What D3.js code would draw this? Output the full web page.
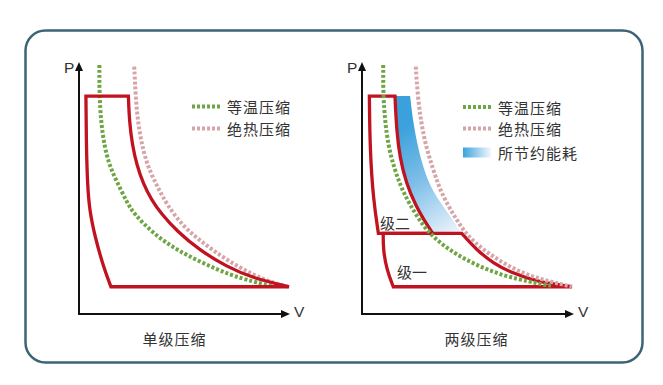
<!DOCTYPE html>
<html>
<head>
<meta charset="utf-8">
<script src="https://cdn.jsdelivr.net/npm/d3@7"></script>
<style>
body { margin: 0; background: #fff; }
svg { display: block; }
text { font-family: "Noto Sans CJK SC", "Noto Sans", sans-serif; fill: #333; }
.axlab { font-family: "Liberation Sans", Arial, sans-serif; }
</style>
</head>
<body>
<svg id="chart" width="663" height="385"></svg>
<script>
const width = 663;
const height = 385;

// pressures of the horizontal strokes
const pHigh = 8;
const pMid = 2.96;
const pLow = 1;

// single stage (left panel), points are [V, P]
const singleIso = [[0.97, 9.14], [0.97, 8.04], [1.05, 7.06], [1.2, 6.2], [1.44, 5.47], [1.8, 4.86],
  [2.27, 4.12], [2.59, 3.7], [3.54, 2.95], [4.65, 2.35], [5.92, 1.86], [7.19, 1.43], [8.3, 1.19], [8.94, 1.06], [9.3, 1.02]];
const singleAdia = [[2.63, 9.08], [2.7, 7.92], [2.82, 6.94], [3.06, 5.96], [3.38, 5.22], [3.78, 4.61],
  [4.18, 4.02], [4.97, 3.2], [5.92, 2.6], [7.03, 1.98], [8.3, 1.43], [9.24, 1.14], [10, 1.0]];
const singleCompress = [[2.35, 8], [2.4, 7.06], [2.54, 6.2], [2.75, 5.47], [3.06, 4.78], [3.46, 4.18],
  [3.9, 3.7], [4.65, 3.05], [5.76, 2.33], [7.03, 1.74], [8.3, 1.31], [10, 1]];
const singleExpand = [[1.52, 1], [1.16, 1.74], [0.76, 2.84], [0.5, 3.8], [0.4, 4.8], [0.35, 6.2], [0.33, 8]];

// two stage (right panel)
const twoIso = [[1.01, 9.14], [1.01, 8.04], [1.1, 7.06], [1.25, 6.2], [1.49, 5.47], [1.81, 4.74], [2.2, 4.12],
  [2.92, 3.2], [3.71, 2.6], [4.67, 2.1], [5.78, 1.68], [6.89, 1.37], [8.0, 1.19], [8.48, 1.1], [9.0, 1.04]];
const twoAdia = [[2.56, 9.08], [2.65, 8.04], [2.81, 7.06], [3.03, 6.2], [3.32, 5.47], [3.63, 4.74], [3.99, 4.12],
  [4.51, 3.45], [4.99, 2.9], [5.78, 2.35], [6.73, 1.86], [7.84, 1.43], [8.95, 1.19], [9.99, 1.0]];
const stage2Compress = [[1.57, 8], [1.65, 6.69], [1.81, 5.72], [2.1, 4.81], [2.57, 3.96], [2.95, 3.45], [3.37, 2.96]];
const stage2Expand = [[0.78, 2.96], [0.54, 4.19], [0.38, 6.02], [0.35, 8]];
const stage1Compress = [[4.75, 2.96], [5.46, 2.35], [6.25, 1.86], [7.2, 1.49], [8.32, 1.19], [10, 1]];
const stage1Expand = [[1.49, 1], [1.18, 1.62], [1.01, 2.35], [1.01, 2.96]];
const savedEdge = [[4.75, 2.96], [4.33, 3.45], [3.72, 4.1], [3.29, 4.63], [2.95, 5.29], [2.67, 6.09], [2.43, 7.06], [2.29, 8]];

const legendLabels = ['等温压缩', '绝热压缩', '所节约能耗'];
const captions = ['单级压缩', '两级压缩'];
const stageLabels = ['级二', '级一'];

const red = '#c0121f';
const green = '#6ea646';
const pink = '#d7a4a9';

const svg = d3.select('#chart');

const defs = svg.append('defs');
const fillGrad = defs.append('linearGradient')
  .attr('id', 'saved')
  .attr('gradientUnits', 'userSpaceOnUse')
  .attr('x1', 398).attr('y1', 130).attr('x2', 462).attr('y2', 236);
fillGrad.append('stop').attr('offset', 0).attr('stop-color', '#3ba1dc');
fillGrad.append('stop').attr('offset', 0.45).attr('stop-color', '#80bfe9');
fillGrad.append('stop').attr('offset', 1).attr('stop-color', '#f6f9fd');
const swatchGrad = defs.append('linearGradient').attr('id', 'swatch');
swatchGrad.append('stop').attr('offset', 0).attr('stop-color', '#3ba3dd');
swatchGrad.append('stop').attr('offset', 1).attr('stop-color', '#f4f8fc');

// frame
svg.append('rect')
  .attr('x', 25.5).attr('y', 30.5)
  .attr('width', 617).attr('height', 332)
  .attr('rx', 20)
  .attr('fill', 'none')
  .attr('stroke', '#3c6476')
  .attr('stroke-width', 2.5);

const y = d3.scaleLinear().domain([0, 9.25]).range([314, 62]);
const xLeft = d3.scaleLinear().domain([0, 10]).range([79, 289]);
const xRight = d3.scaleLinear().domain([0, 10]).range([362, 572]);

function curveGen(x, curve) {
  return d3.line().x(d => x(d[0])).y(d => y(d[1])).curve(curve);
}

// joins straight and curved pieces into one closed outline
function outline(x, pieces) {
  return pieces.map((p, i) => {
    const s = curveGen(x, p.curved ? d3.curveBasis : d3.curveLinear)(p.pts);
    return i ? s.replace(/^M/, 'L') : s;
  }).join('') + 'Z';
}

function drawAxes(x, pLabelX, tipExtra) {
  const g = svg.append('g');
  const x0 = x.range()[0];
  const xEnd = x.range()[1] + tipExtra;
  const y0 = y(0);
  const yTop = y(y.domain()[1]);
  g.append('line').attr('x1', x0).attr('y1', y0).attr('x2', x0).attr('y2', yTop + 6)
    .attr('stroke', '#111').attr('stroke-width', 2);
  g.append('line').attr('x1', x0 - 1).attr('y1', y0).attr('x2', xEnd - 6).attr('y2', y0)
    .attr('stroke', '#111').attr('stroke-width', 2);
  g.append('path').attr('d', `M${x0},${yTop}L${x0 - 4},${yTop + 9}L${x0 + 4},${yTop + 9}Z`).attr('fill', '#111');
  g.append('path').attr('d', `M${xEnd},${y0}L${xEnd - 9},${y0 - 4}L${xEnd - 9},${y0 + 4}Z`).attr('fill', '#111');
  g.append('text').attr('class', 'axlab').attr('x', pLabelX).attr('y', 72.5)
    .style('font-size', '15.5px').text('P');
  g.append('text').attr('class', 'axlab').attr('x', xEnd + 4).attr('y', 317)
    .style('font-size', '15.5px').text('V');
}

function dotted(x, pts, color) {
  svg.append('path')
    .attr('d', curveGen(x, d3.curveBasis)(pts))
    .attr('fill', 'none')
    .attr('stroke', color)
    .attr('stroke-width', 4)
    .attr('stroke-dasharray', '3,2');
}

function redOutline(x, pieces) {
  svg.append('path')
    .attr('d', outline(x, pieces))
    .attr('fill', 'none')
    .attr('stroke', red)
    .attr('stroke-width', 3.3)
    .attr('stroke-linejoin', 'miter');
}

function legend(x0, rows) {
  rows.forEach((r, i) => {
    if (i < 2) {
      svg.append('line')
        .attr('x1', x0).attr('x2', x0 + 28)
        .attr('y1', r.y).attr('y2', r.y)
        .attr('stroke', i === 0 ? green : pink)
        .attr('stroke-width', 4)
        .attr('stroke-dasharray', '3,2');
    } else {
      svg.append('rect')
        .attr('x', x0).attr('y', r.y - 5)
        .attr('width', 28).attr('height', 10)
        .attr('fill', 'url(#swatch)');
    }
    svg.append('text')
      .attr('x', x0 + 35).attr('y', r.y)
      .attr('dominant-baseline', 'central')
      .style('font-size', '15px')
      .style('letter-spacing', '1px')
      .text(legendLabels[i]);
  });
}

// ---- left: single stage
drawAxes(xLeft, 64, 1);
dotted(xLeft, singleIso, green);
dotted(xLeft, singleAdia, pink);
redOutline(xLeft, [
  { pts: [[singleExpand[singleExpand.length - 1][0], pHigh], singleCompress[0]] },
  { pts: singleCompress, curved: true },
  { pts: [[10, pLow], singleExpand[0]] },
  { pts: singleExpand, curved: true }
]);
legend(192, [{ y: 106.5 }, { y: 128.5 }]);

// ---- right: two stage
drawAxes(xRight, 347, 2);
svg.append('path')
  .attr('d', outline(xRight, [
    { pts: stage2Compress, curved: true },
    { pts: [stage2Compress[stage2Compress.length - 1], savedEdge[0]] },
    { pts: savedEdge, curved: true }
  ]))
  .attr('fill', 'url(#saved)');
redOutline(xRight, [
  { pts: [[stage2Expand[stage2Expand.length - 1][0], pHigh], stage2Compress[0]] },
  { pts: stage2Compress, curved: true },
  { pts: [stage2Compress[stage2Compress.length - 1], stage2Expand[0]] },
  { pts: stage2Expand, curved: true }
]);
redOutline(xRight, [
  { pts: [[stage1Expand[stage1Expand.length - 1][0], pMid], stage1Compress[0]] },
  { pts: stage1Compress, curved: true },
  { pts: [[10, pLow], stage1Expand[0]] },
  { pts: stage1Expand, curved: true }
]);
dotted(xRight, twoIso, green);
dotted(xRight, twoAdia, pink);
legend(463, [{ y: 107 }, { y: 128.5 }, { y: 152.5 }]);

svg.append('text').attr('x', 380).attr('y', 222).attr('dominant-baseline', 'central')
  .style('font-size', '15px').text(stageLabels[0]);
svg.append('text').attr('x', 397).attr('y', 271).attr('dominant-baseline', 'central')
  .style('font-size', '15px').text(stageLabels[1]);

// captions, slightly off the axis centres as in the original
[[xLeft, -9.5], [xRight, 9.5]].forEach(([x, shift], i) => {
  svg.append('text')
    .attr('x', (x.range()[0] + x.range()[1]) / 2 + shift)
    .attr('y', 338.5)
    .attr('text-anchor', 'middle')
    .attr('dominant-baseline', 'central')
    .style('font-size', '15px')
    .style('letter-spacing', '1px')
    .text(captions[i]);
});
</script>
</body>
</html>
